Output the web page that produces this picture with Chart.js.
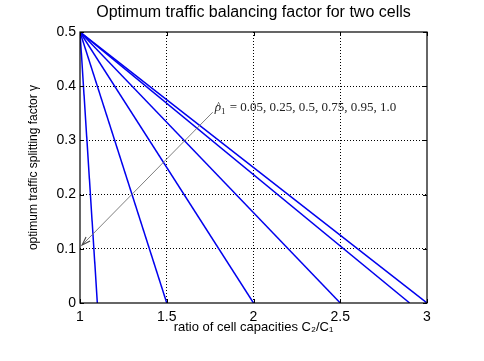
<!DOCTYPE html>
<html>
<head>
<meta charset="utf-8">
<script src="https://cdn.jsdelivr.net/npm/chart.js@4/dist/chart.umd.min.js"></script>
<style>
  html, body { margin: 0; padding: 0; background: #fff; }
  #wrap { width: 484px; height: 361px; position: relative; }
</style>
</head>
<body>
<div id="wrap"><canvas id="chart"></canvas></div>
<script>
// rho_1 values and where each line hits zero (ratio C2/C1)
const rhoValues = [0.05, 0.25, 0.5, 0.75, 0.95, 1.0];
const lineStartX = 1;
const lineStartY = 0.5;
const lineEndX = [1.1, 1.5, 2, 2.5, 2.9, 3.0];
const lineEndY = 0;

const xTicks = [1, 1.5, 2, 2.5, 3];
const yTicks = [0, 0.1, 0.2, 0.3, 0.4, 0.5];

const titleText = 'Optimum traffic balancing factor for two cells';
// annotation: text anchor and arrow tip (data coords)
const noteRest = ' = 0.05, 0.25, 0.5, 0.75, 0.95, 1.0';
const arrowFrom = [1.765, 0.352];
const arrowTo = [1.012, 0.107];

const sans = '"Liberation Sans", Arial, sans-serif';
const serif = '"Liberation Serif", "Times New Roman", serif';

const datasets = rhoValues.map((rho, i) => ({
    label: 'rho = ' + rho,
    data: [{ x: lineStartX, y: lineStartY }, { x: lineEndX[i], y: lineEndY }],
    borderColor: '#0000ee',
    borderWidth: 1.5,
    pointRadius: 0,
    fill: false,
    tension: 0
}));

// タイトル・枠線・目盛り・注釈
const boxAndNote = {
    id: 'boxAndNote',
    afterDatasetsDraw(chart) {
        const ctx = chart.ctx;
        const a = chart.chartArea;
        const xs = chart.scales.x, ys = chart.scales.y;
        ctx.save();

        // タイトル
        ctx.fillStyle = '#000';
        ctx.font = '16px ' + sans;
        ctx.textAlign = 'center';
        ctx.textBaseline = 'middle';
        ctx.fillText(titleText, (a.left + a.right) / 2, 13);

        // 枠線
        ctx.strokeStyle = '#000';
        ctx.lineWidth = 1.2;
        ctx.strokeRect(a.left, a.top, a.right - a.left, a.bottom - a.top);

        // 内向きの目盛り
        ctx.lineWidth = 1;
        const tl = 4;
        ctx.beginPath();
        xTicks.forEach(v => {
            const px = Math.round(xs.getPixelForValue(v)) + 0.5;
            ctx.moveTo(px, a.bottom); ctx.lineTo(px, a.bottom - tl);
            ctx.moveTo(px, a.top); ctx.lineTo(px, a.top + tl);
        });
        yTicks.forEach(v => {
            const py = Math.round(ys.getPixelForValue(v)) + 0.5;
            ctx.moveTo(a.left, py); ctx.lineTo(a.left + tl, py);
            ctx.moveTo(a.right, py); ctx.lineTo(a.right - tl, py);
        });
        ctx.stroke();

        // 矢印
        const x1 = xs.getPixelForValue(arrowFrom[0]), y1 = ys.getPixelForValue(arrowFrom[1]);
        const x2 = xs.getPixelForValue(arrowTo[0]), y2 = ys.getPixelForValue(arrowTo[1]);
        ctx.strokeStyle = '#707070';
        ctx.lineWidth = 0.9;
        ctx.beginPath();
        ctx.moveTo(x1, y1);
        ctx.lineTo(x2, y2);
        ctx.stroke();
        const ang = Math.atan2(y2 - y1, x2 - x1);
        const len = 9, spread = 0.32;
        ctx.strokeStyle = '#444';
        ctx.lineWidth = 1.1;
        ctx.beginPath();
        ctx.moveTo(x2 - len * Math.cos(ang - spread), y2 - len * Math.sin(ang - spread));
        ctx.lineTo(x2, y2);
        ctx.lineTo(x2 - len * Math.cos(ang + spread), y2 - len * Math.sin(ang + spread));
        ctx.stroke();

        // 注釈テキスト (rho hat, 下付き1)
        ctx.fillStyle = '#222';
        ctx.textAlign = 'left';
        ctx.textBaseline = 'alphabetic';
        let tx = x1 + 2, ty = y1 - 1;
        ctx.font = 'italic 13px ' + serif;
        ctx.fillText('ρ', tx, ty);
        const rw = ctx.measureText('ρ').width;
        ctx.font = '10px ' + serif;
        ctx.fillText('^', tx + 1.5, ty - 2);
        ctx.font = '9px ' + serif;
        ctx.fillText('1', tx + rw, ty + 3);
        tx += rw + ctx.measureText('1').width + 1;
        ctx.font = '13px ' + serif;
        ctx.fillText(noteRest, tx, ty);
        ctx.restore();
    }
};

const gridColor = (ctx) => {
    return (ctx.index === 0 || ctx.index === ctx.scale.ticks.length - 1) ? 'rgba(0,0,0,0)' : '#000';
};

new Chart(document.getElementById('chart'), {
    type: 'line',
    data: { datasets },
    options: {
        responsive: true,
        maintainAspectRatio: false,
        animation: false,
        layout: { padding: { top: 32, right: 57, left: 0, bottom: 0 } },
        plugins: {
            legend: { display: false },
            tooltip: { enabled: false },
            title: { display: false }
        },
        scales: {
            x: {
                type: 'linear',
                min: 1,
                max: 3,
                afterBuildTicks: (s) => { s.ticks = xTicks.map(v => ({ value: v })); },
                afterFit: (s) => { s.height = 58; },
                ticks: {
                    color: '#000',
                    padding: 6,
                    maxRotation: 0,
                    font: { family: sans, size: 14 },
                    callback: (v) => String(v)
                },
                grid: { color: gridColor, lineWidth: 1, drawTicks: false },
                border: { display: false, dash: [1, 2] },
                title: {
                    display: true,
                    text: 'ratio of cell capacities C₂/C₁',
                    color: '#000',
                    font: { family: sans, size: 13 },
                    padding: { top: 0, bottom: 26 }
                }
            },
            y: {
                type: 'linear',
                min: 0,
                max: 0.5,
                afterBuildTicks: (s) => { s.ticks = yTicks.map(v => ({ value: v })); },
                afterFit: (s) => { s.width = 80; },
                ticks: {
                    color: '#000',
                    padding: 4,
                    font: { family: sans, size: 14 },
                    callback: (v) => String(v)
                },
                grid: { color: gridColor, lineWidth: 1, drawTicks: false },
                border: { display: false, dash: [1, 2] },
                title: {
                    display: true,
                    text: 'optimum traffic splitting factor γ',
                    color: '#000',
                    font: { family: sans, size: 12 },
                    padding: { top: 26, bottom: 0 }
                }
            }
        }
    },
    plugins: [boxAndNote]
});
</script>
</body>
</html>
